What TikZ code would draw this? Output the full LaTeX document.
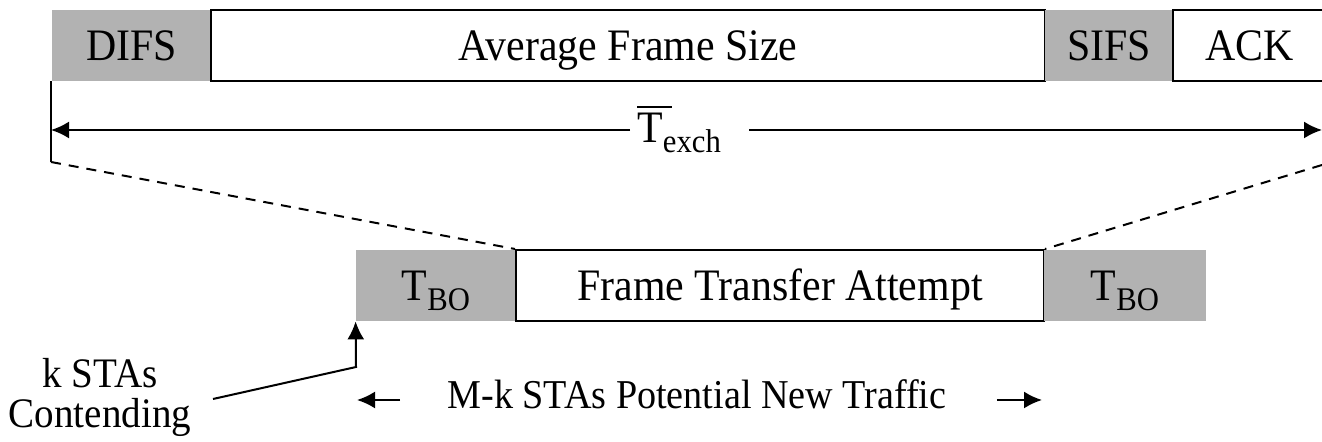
\documentclass[tikz,border=0pt]{standalone}
\usepackage{fontspec}
\setmainfont{Liberation Serif}[FakeStretch=0.93]
\usetikzlibrary{arrows.meta}
\newcommand{\tbo}{T\raisebox{-5pt}{\fontsize{16.5}{16.5}\selectfont BO}}
\begin{document}
\begin{tikzpicture}[x=0.5pt,y=-0.5pt,
  font=\fontsize{22.5}{26}\selectfont,
  wbox/.style={draw, line width=1pt, inner sep=0pt, minimum height=35.5pt, text height=14.9pt, text depth=0pt},
  gbox/.style={fill=black!30, inner sep=0pt, minimum height=35.5pt, text height=14.9pt, text depth=0pt},
  conn/.style={line width=1pt},
  bigarrow/.style={conn, -{Latex[length=9pt,width=8.5pt]}},
  dashline/.style={line width=1pt, dash pattern=on 5pt off 4pt}]
\useasboundingbox (0,0) rectangle (1322,442);
% top row
\node[gbox, minimum width=79.5pt] (difs) at (131.5,45.5) {DIFS};
\node[wbox, minimum width=417pt] (afs) at (628,45.5) {Average Frame Size};
\node[gbox, minimum width=64pt] (sifs) at (1109,45.5) {SIFS};
\node[wbox, minimum width=76.5pt] (ack) at (1249.5,45.5) {ACK};
% T exch
\coordinate (lt) at (51,81);
\coordinate (lb) at (51,162);
\coordinate (la) at (51,130);
\coordinate (ra) at (1322,130);
\coordinate (rb) at (1322,165);
\node[inner sep=0pt, anchor=base west] (texch) at (637,143)
  {\makebox[0pt][l]{\rule[17.5pt]{17.5pt}{1pt}}T\raisebox{-5pt}{\fontsize{16.5}{16.5}\selectfont exch}};
\draw[conn] (lt) -- (lb);
\draw[bigarrow] ([xshift=-3.5pt]texch.west |- la) -- (la);
\draw[bigarrow] ([xshift=14pt]texch.east |- ra) -- (ra);
% bottom row
\node[gbox, minimum width=80pt] (tbo1) at (436,285.5) {\tbo};
\node[wbox, minimum width=264pt] (fta) at (780,285.5) {Frame Transfer Attempt};
\node[gbox, minimum width=81pt] (tbo2) at (1125,285.5) {\tbo};
\draw[dashline] (lb) -- (fta.north west);
\draw[dashline] (rb) -- (fta.north east);
% k STAs
\node[align=center, inner sep=0pt, font=\fontsize{21}{20}\selectfont, anchor=base] (kstas) at (100,428) {k STAs\\Contending};
\coordinate (kstart) at (213,399);
\coordinate (kbend) at (356,367);
\draw[bigarrow] (kstart) -- (kbend) -- (tbo1.south west);
% M-k
\node[inner sep=0pt, anchor=base, font=\fontsize{20.5}{24}\selectfont] (mk) at (697,409) {M-k STAs Potential New Traffic};
\coordinate (mkl) at (357,400);
\coordinate (mkr) at (1042,400);
\draw[bigarrow] ([xshift=-23.5pt]mk.west |- mkl) -- (mkl);
\draw[bigarrow] ([xshift=25pt]mk.east |- mkr) -- (mkr);
\end{tikzpicture}
\end{document}
